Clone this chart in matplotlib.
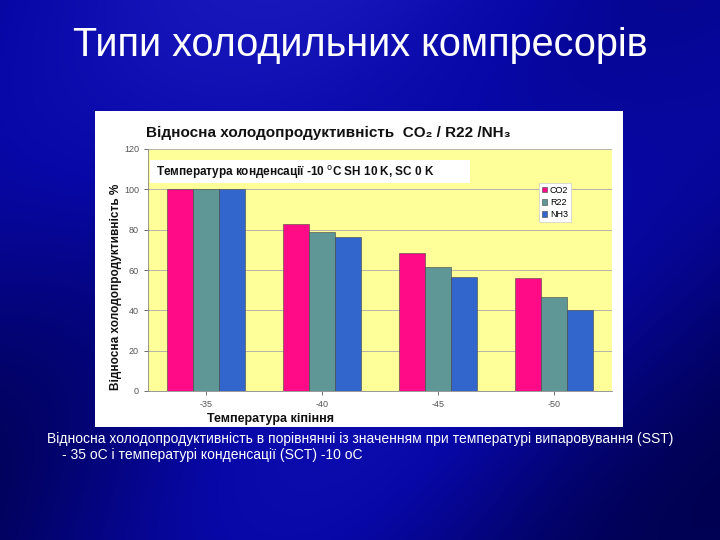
import numpy as np
import matplotlib
matplotlib.use("Agg")
import matplotlib.pyplot as plt
from matplotlib.patches import Rectangle

plt.rcParams['font.family'] = ['Liberation Sans', 'DejaVu Sans']

# data
temps = ['-35', '-40', '-45', '-50']
co2 = [100, 83, 68.5, 56]
r22 = [100, 79, 61.5, 46.5]
nh3 = [100, 76.5, 56.5, 40]
series = ['CO2', 'R22', 'NH3']
colors = ['#FF0A87', '#5F9696', '#3366CC']
yticks = [0, 20, 40, 60, 80, 100, 120]

W, H = 720, 540
fig = plt.figure(figsize=(7.2, 5.4), dpi=100)

# slide background: dark blue gradient
bg = fig.add_axes([0, 0, 1, 1])
yy, xx = np.mgrid[0:1:200j, 0:1:270j]
grad = 0.5 + 0.3 * np.exp(-((xx - 0.45) ** 2) / 0.15) - 0.25 * yy + 0.08 * np.sin(6 * (xx + yy))
bg.imshow(grad, cmap=matplotlib.colors.LinearSegmentedColormap.from_list(
    'b', ['#00004A', '#0808A8', '#2020C8']), aspect='auto', extent=[0, 1, 0, 1], vmin=0.2, vmax=1.0)
bg.set_xlim(0, 1)
bg.set_ylim(0, 1)
bg.axis('off')

def fx(px):
    return px / W

def fy(py):
    return 1 - py / H

fig.text(0.5, fy(45), 'Типи холодильних компресорів', color='white', fontsize=28.5,
         ha='center', va='center')

# white picture panel
fig.patches.append(Rectangle((fx(95), fy(427)), fx(623) - fx(95), fy(111) - fy(427),
                             transform=fig.transFigure, facecolor='white', edgecolor='none', zorder=1))

fig.text(fx(146), fy(133), 'Відносна холодопродуктивність  CO₂ / R22 /NH₃', fontsize=11,
         fontweight='bold', color='#111111', va='center', ha='left', zorder=3)

ax = fig.add_axes([fx(148), fy(391), fx(612) - fx(148), fy(149) - fy(391)], zorder=2)
ax.set_facecolor('#FFFF99')
x = np.arange(len(temps))
bw = 0.225
for i, (name, vals) in enumerate(zip(series, [co2, r22, nh3])):
    ax.bar(x + (i - 1) * bw, vals, width=bw, color=colors[i], edgecolor='#444444',
           linewidth=0.4, label=name, zorder=3)

ax.set_xlim(-0.5, len(temps) - 0.5)
ax.set_ylim(0, 120)
ax.set_yticks(yticks)
ax.set_xticks(x)
ax.set_xticklabels(temps)
ax.tick_params(labelsize=6.5, colors='#555555', length=3, width=0.6)
ax.yaxis.grid(True, color='#AAAAAA', linewidth=0.6, zorder=0)
ax.set_axisbelow(True)
for s in ['top', 'right']:
    ax.spines[s].set_visible(False)
for s in ['left', 'bottom']:
    ax.spines[s].set_color('#888888')
    ax.spines[s].set_linewidth(0.6)

ax.set_ylabel('Відносна холодопродуктивність %', fontsize=8.5, fontweight='bold', color='#111111')
ax.yaxis.set_label_coords(-0.055, 0.43)
ax.set_xlabel('Температура кіпіння', fontsize=9, fontweight='bold', color='#111111')
ax.xaxis.set_label_coords(0.265, -0.09)

# white annotation box
ax.add_patch(Rectangle((0.004, 0.86), 0.69, 0.095, transform=ax.transAxes,
                       facecolor='white', edgecolor='none', zorder=4))
ax.text(0.018, 0.908, 'Температура конденсації -10 $^{\\rm o}$C SH 10 K, SC 0 K', transform=ax.transAxes,
        fontsize=8.5, fontweight='bold', color='#111111', va='center', ha='left', zorder=5)

leg = ax.legend(loc='upper left', bbox_to_anchor=(0.832, 0.88), fontsize=6.5, frameon=True,
                fancybox=False, handlelength=0.6, handleheight=0.6, handletextpad=0.3,
                borderpad=0.35, labelspacing=0.35, edgecolor='#CCCCCC', framealpha=1)
leg.get_frame().set_linewidth(0.5)
leg.set_zorder(6)

fig.text(fx(47), fy(439), 'Відносна холодопродуктивність в порівнянні із значенням при температурі випаровування (SST)',
         color='white', fontsize=10, va='center', ha='left')
fig.text(fx(62), fy(455), '- 35 оС і температурі конденсації (SCT) -10 оС',
         color='white', fontsize=10, va='center', ha='left')

fig.savefig('out.png', dpi=100)
